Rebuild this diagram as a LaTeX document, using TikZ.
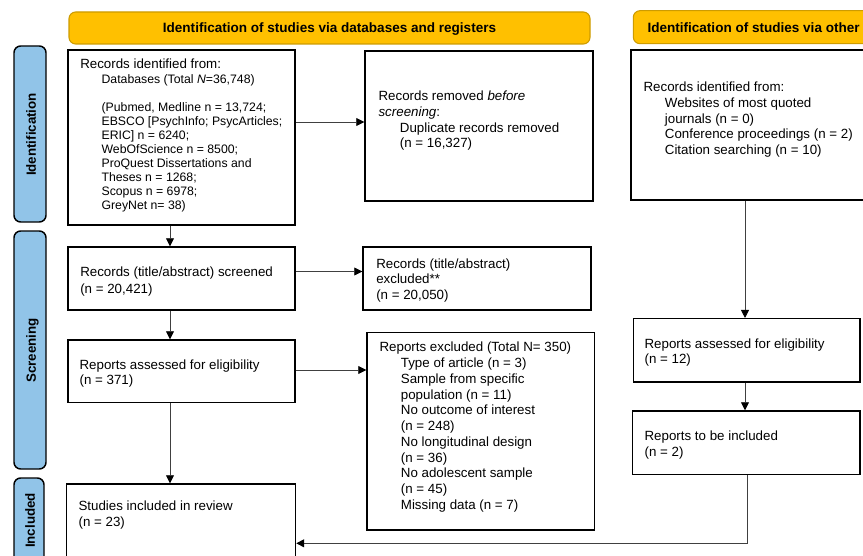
\documentclass[tikz,border=0pt]{standalone}
\usepackage{fontspec}
\setmainfont{Liberation Sans}
\usetikzlibrary{arrows.meta,fit}
\definecolor{hdr}{RGB}{255,192,0}
\definecolor{hdrline}{RGB}{205,155,0}
\definecolor{side}{RGB}{145,196,232}
\begin{document}
\begin{tikzpicture}[x=0.75pt,y=-0.75pt,
  box/.style={draw=black, line width=1.1pt, inner sep=0pt},
  hdrbox/.style={draw=hdrline, fill=hdr, line width=0.8pt, rounded corners=5pt, inner sep=0pt},
  hdrtxt/.style={inner sep=0pt, font=\bfseries\fontsize{10.15pt}{12pt}\selectfont},
  sidebox/.style={draw=black, fill=side, line width=1.1pt, rounded corners=5pt, inner sep=0pt},
  sidetxt/.style={rotate=90, inner sep=0pt, text depth=0pt, font=\bfseries\fontsize{10pt}{12pt}\selectfont},
  txt/.style={anchor=north west, inner sep=0pt, align=left, font=\fontsize{10pt}{11.8pt}\selectfont},
  arr/.style={draw=black!75, line width=0.6pt, -{Triangle[length=6pt,width=6pt,color=black]}}
]
\useasboundingbox (0,0) rectangle (863,556);
\clip (0,0) rectangle (863,556);

% headers
\node[hdrbox, fit={(69,12) (590,44)}] (h1) {};
\node[hdrtxt, anchor=base] (h1t) at (329.5,32.8) {Identification of studies via databases and registers};
\node[hdrbox, fit={(633.3,10.7) (885,43.7)}] (h2) {};
\node[hdrtxt, anchor=base west] (h2t) at (647.3,32.8) {Identification of studies via other};

% side bars
\node[sidebox, fit={(14,46) (46,222)}] (s1) {};
\node[sidetxt] (s1t) at (31,134.5) {Identification};
\node[sidebox, fit={(14,231) (46,469)}] (s2) {};
\node[sidetxt] (s2t) at (31,350.5) {Screening};
\node[sidebox, fit={(14,478) (44,563)}] (s3) {};
\node[sidetxt] (s3t) at (30,520.5) {Included};

% boxes
\node[box, fit={(68,50) (295,225)}] (b1) {};
\node[box, fit={(365,51) (593,201)}] (rem) {};
\node[box, fit={(631,50) (885,200)}] (oth) {};
\node[box, fit={(68,247) (295,310)}] (scr) {};
\node[box, fit={(363,247) (591,310)}] (exc) {};
\node[box, fit={(68,340) (295,402.5)}] (ass) {};
\node[box, fit={(367,332.5) (594.5,530)}] (rexc) {};
\node[box, fit={(633.3,318.7) (860,382)}] (oass) {};
\node[box, fit={(632.3,411) (860,474.3)}] (oinc) {};
\node[box, fit={(66.5,484) (295.5,590)}] (inc) {};

% texts
\node[txt, font=\fontsize{9.2pt}{10.5pt}\selectfont] (b1t) at (80,58.3) {{\fontsize{10pt}{10.5pt}\selectfont Records identified from:}\\[1.3pt]
\hspace*{16pt}Databases (Total \textit{N}=36,748)\\[10.3pt]
\hspace*{16pt}(Pubmed, Medline n = 13,724;\\
\hspace*{16pt}EBSCO [PsychInfo; PsycArticles;\\
\hspace*{16pt}ERIC] n = 6240;\\
\hspace*{16pt}WebOfScience n = 8500;\\
\hspace*{16pt}ProQuest Dissertations and\\
\hspace*{16pt}Theses n = 1268;\\
\hspace*{16pt}Scopus n = 6978;\\
\hspace*{16pt}GreyNet n= 38)};

\node[txt] (remt) at (378.3,90.7) {Records removed \textit{before}\\
\textit{screening}:\\
\hspace*{16pt}Duplicate records removed\\
\hspace*{16pt}(n = 16,327)};

\node[txt] (otht) at (643.3,81.7) {Records identified from:\\
\hspace*{16pt}Websites of most quoted\\
\hspace*{16pt}journals (n = 0)\\
\hspace*{16pt}Conference proceedings (n = 2)\\
\hspace*{16pt}Citation searching (n = 10)};

\node[txt] (scrt) at (80,266.7) {Records (title/abstract) screened\\[0.8pt]
(n = 20,421)};

\node[txt] (exct) at (376,258.3) {Records (title/abstract)\\
excluded**\\
(n = 20,050)};

\node[txt] (asst) at (79.3,359.3) {Reports assessed for eligibility\\
(n = 371)};

\node[txt] (rexct) at (379.3,342) {Reports excluded (Total N= 350)\\
\hspace*{16pt}Type of article (n = 3)\\
\hspace*{16pt}Sample from specific\\
\hspace*{16pt}population (n = 11)\\
\hspace*{16pt}No outcome of interest\\
\hspace*{16pt}(n = 248)\\
\hspace*{16pt}No longitudinal design\\
\hspace*{16pt}(n = 36)\\
\hspace*{16pt}No adolescent sample\\
\hspace*{16pt}(n = 45)\\
\hspace*{16pt}Missing data (n = 7)};

\node[txt] (oasst) at (644.3,338.3) {Reports assessed for eligibility\\
(n = 12)};

\node[txt] (oinct) at (644.3,430.7) {Reports to be included\\
(n = 2)};

\node[txt] (inct) at (78.3,501) {Studies included in review\\
(n = 23)};

% helper coordinates
\coordinate (yA) at (0,122);
\coordinate (yB) at (0,271.5);
\coordinate (yC) at (0,370);
\coordinate (xL) at (170,0);
\coordinate (xR) at (745,0);
\coordinate (xT) at (747.3,0);
\coordinate (bend) at (747.3,543.3);

% connectors
\draw[arr] (b1.east |- yA) -- (rem.west |- yA);
\draw[arr] (b1.south -| xL) -- (scr.north -| xL);
\draw[arr] (scr.east |- yB) -- (exc.west |- yB);
\draw[arr] (scr.south -| xL) -- (ass.north -| xL);
\draw[arr] (ass.east |- yC) -- (rexc.west |- yC);
\draw[arr] (ass.south -| xL) -- (inc.north -| xL);
\draw[arr] (oth.south -| xR) -- (oass.north -| xR);
\draw[arr] (oass.south -| xR) -- (oinc.north -| xR);
\draw[arr] (oinc.south -| xT) -- (bend) -- (inc.east |- bend);
\end{tikzpicture}
\end{document}
